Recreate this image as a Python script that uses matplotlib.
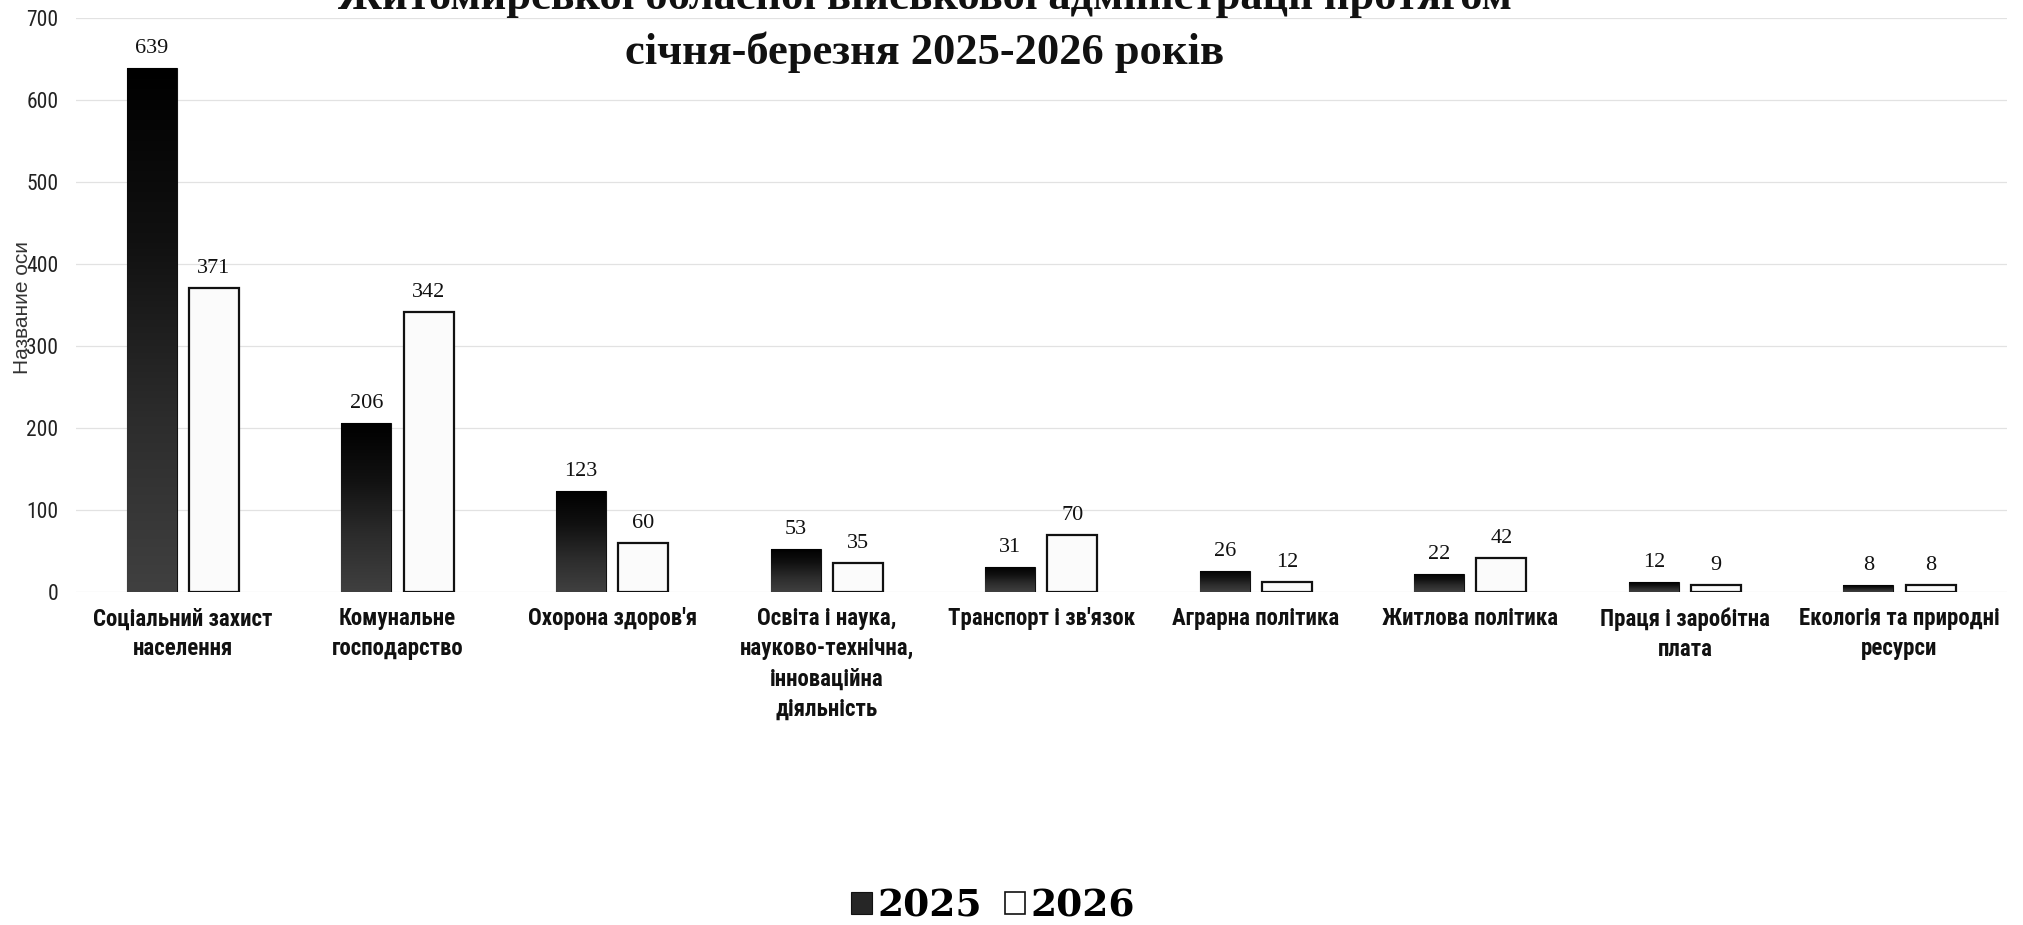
import numpy as np
import matplotlib
matplotlib.use("Agg")
import matplotlib.pyplot as plt
from matplotlib.colors import LinearSegmentedColormap
from matplotlib.patches import Patch
from matplotlib import font_manager as fm

categories = [
    "Соціальний захист\nнаселення",
    "Комунальне\nгосподарство",
    "Охорона здоров'я",
    "Освіта і наука,\nнауково-технічна,\nінноваційна\nдіяльність",
    "Транспорт і зв'язок",
    "Аграрна політика",
    "Житлова політика",
    "Праця і заробітна\nплата",
    "Екологія та природні\nресурси",
]
values_2025 = [639, 206, 123, 53, 31, 26, 22, 12, 8]
values_2026 = [371, 342, 60, 35, 70, 12, 42, 9, 8]
series_names = ["2025", "2026"]
yticks = [0, 100, 200, 300, 400, 500, 600, 700]
title = "Житомирської обласної військової адміністрації протягом\nсічня-березня 2025-2026 років"
ylabel = "Название оси"

SERIF = ["Liberation Serif", "DejaVu Serif"]


def narrow_font(bold):
    pref = ["Liberation Sans Narrow", "Roboto Condensed", "Open Sans Condensed",
            "Noto Sans", "DejaVu Sans", "Roboto", "Open Sans"]
    cands = []
    for f in fm.fontManager.ttflist:
        st = f.stretch
        if isinstance(st, str):
            cond = st in ("condensed", "semi-condensed", "extra-condensed")
        else:
            cond = st < 500
        if "Narrow" in f.name or "Condensed" in f.name:
            cond = True
        if not cond or f.style != "normal":
            continue
        wt = f.weight
        if isinstance(wt, str):
            wt = {"bold": 700, "normal": 400, "regular": 400}.get(wt, 400)
        isb = wt >= 600
        if isb != bold:
            continue
        rank = next((i for i, p in enumerate(pref) if f.name.startswith(p)), 99)
        cands.append((rank, f.fname))
    if cands:
        cands.sort()
        return cands[0][1]
    return None


nb = narrow_font(True)
nr = narrow_font(False)
if nb:
    cat_fp = fm.FontProperties(fname=nb, size=16.5)
else:
    cat_fp = fm.FontProperties(family=["Liberation Sans", "DejaVu Sans"], weight="bold", size=14)
if nr:
    tick_fp = fm.FontProperties(fname=nr, size=15.5)
else:
    tick_fp = fm.FontProperties(family=["Liberation Sans", "DejaVu Sans"], size=13.5)

fig = plt.figure(figsize=(20.23, 9.25), dpi=100)
ax = fig.add_axes([0.0374, 0.36, 0.992 - 0.0374, 0.9805 - 0.36])

x = np.arange(len(categories))
w = 0.233
off = 0.145

bars25 = ax.bar(x - off, values_2025, width=w, color="#1e1e1e", edgecolor="#111111",
                linewidth=0.8, zorder=3)
bars26 = ax.bar(x + off, values_2026, width=w, color="#fbfbfb", edgecolor="#111111",
                linewidth=1.6, zorder=3)

grad = np.linspace(0, 1, 256).reshape(-1, 1)
cmap = LinearSegmentedColormap.from_list("g", ["#000000", "#111111", "#2c2c2c", "#404040"])
for b in bars25:
    x0, y0 = b.get_x(), b.get_y()
    bw, bh = b.get_width(), b.get_height()
    im = ax.imshow(grad, extent=(x0, x0 + bw, y0, y0 + bh), origin="upper",
                   cmap=cmap, aspect="auto", zorder=3.5, interpolation="bilinear")
    im.set_clip_path(b)

for bars in (bars25, bars26):
    for b in bars:
        h = b.get_height()
        ax.annotate(f"{int(h)}", (b.get_x() + b.get_width() / 2, h),
                    xytext=(0, 10.8), textcoords="offset points",
                    ha="center", va="baseline", fontsize=16, family=SERIF,
                    color="#111111", zorder=5)

ax.set_xlim(-0.5, len(categories) - 0.5)
ax.set_ylim(0, 700)
ax.set_yticks(yticks)
ax.set_yticklabels([str(t) for t in yticks], fontproperties=tick_fp, color="#222222")
ax.set_xticks(x)
ax.set_xticklabels(categories, fontproperties=cat_fp, color="#111111", linespacing=1.4)
ax.tick_params(axis="x", length=0, pad=11)
ax.tick_params(axis="y", length=0, pad=12.5)
for s in ax.spines.values():
    s.set_visible(False)
ax.yaxis.grid(True, color="#e2e2e2", linewidth=0.9, zorder=0)
ax.set_axisbelow(True)

fig.text(0.0109, 0.668, ylabel, rotation=90, ha="center", va="center",
         family=["Liberation Sans", "DejaVu Sans"], fontsize=15, color="#333333")

fig.text(0.457, 0.931, title, ha="center", va="baseline", family=SERIF,
         fontsize=32, fontweight="bold", color="#111111", linespacing=1.42)

handles = [Patch(facecolor="#262626", edgecolor="#111111", linewidth=0.8),
           Patch(facecolor="#ffffff", edgecolor="#111111", linewidth=1.2)]
fig.legend(handles, series_names, loc="center", bbox_to_anchor=(0.491, 0.021),
           ncol=2, frameon=False,
           prop={"family": ["DejaVu Serif"], "weight": "bold", "size": 27},
           handlelength=0.55, handleheight=0.55, handletextpad=0.15, columnspacing=0.6)

fig.savefig("out.png", dpi=100)
